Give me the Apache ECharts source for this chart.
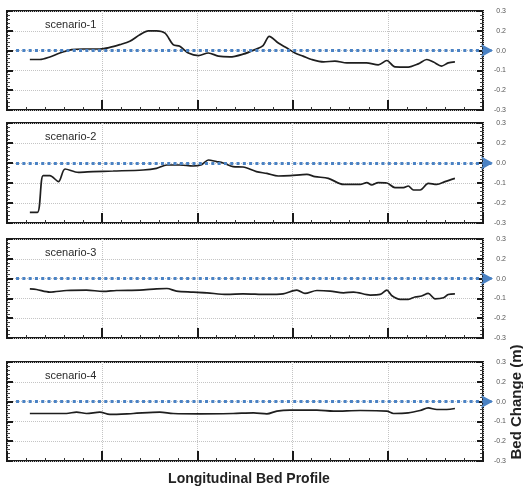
<!DOCTYPE html>
<html>
<head>
<meta charset="utf-8">
<script src="https://cdn.jsdelivr.net/npm/echarts@6/dist/echarts.min.js"></script>
<style>html,body{margin:0;padding:0;background:#fff}#c{width:523px;height:489px}</style>
</head>
<body>
<div id="c"></div>
<script>
const scenarioNames = ['scenario-1', 'scenario-2', 'scenario-3', 'scenario-4'];
const yTickLabels = ['-0.3', '-0.2', '-0.1', '0.0', '0.2', '0.3'];
const xTickValues = [0, 20, 40, 60, 80, 100];

const scenario1X = [4.8, 6.9, 9.0, 11.1, 13.6, 16.0, 19.5, 21.6, 23.7, 25.8, 27.9, 29.7, 31.4, 33.2, 34.9, 36.3, 38.1, 40.2, 42.3, 44.4, 46.8, 49.6, 52.1, 53.8, 55.1, 57.0, 58.8, 60.5, 62.2, 64.0, 66.5, 68.9, 71.4, 75.5, 78.0, 79.8, 81.5, 84.3, 86.4, 88.2, 89.6, 91.3, 92.7, 94.1];
const scenario1Y = [-0.045, -0.045, -0.032, -0.012, 0.005, 0.008, 0.008, 0.016, 0.03, 0.047, 0.08, 0.10, 0.10, 0.088, 0.03, 0.022, -0.012, -0.025, -0.012, -0.028, -0.032, -0.018, 0.005, 0.025, 0.072, 0.038, 0.013, -0.012, -0.028, -0.045, -0.057, -0.053, -0.062, -0.062, -0.072, -0.05, -0.082, -0.083, -0.067, -0.045, -0.058, -0.078, -0.062, -0.057];

const scenario2X = [4.8, 6.4, 7.6, 9.0, 10.8, 12.2, 15.0, 18.1, 22.3, 28.6, 31.4, 33.6, 36.3, 39.1, 40.9, 42.3, 44.0, 45.4, 47.5, 49.6, 52.4, 54.6, 57.0, 59.5, 63.0, 64.7, 67.5, 70.7, 74.2, 75.6, 76.6, 78.0, 79.8, 81.5, 83.3, 84.3, 85.4, 86.8, 88.5, 90.3, 92.0, 94.1];
const scenario2Y = [-0.247, -0.247, -0.063, -0.063, -0.093, -0.03, -0.047, -0.043, -0.04, -0.035, -0.027, -0.01, -0.01, -0.015, -0.008, 0.015, 0.007, 0.0, -0.018, -0.02, -0.043, -0.052, -0.065, -0.063, -0.057, -0.068, -0.077, -0.107, -0.107, -0.098, -0.11, -0.098, -0.10, -0.123, -0.123, -0.115, -0.135, -0.135, -0.102, -0.107, -0.093, -0.077];

const scenario3X = [4.8, 6.2, 9.0, 12.5, 16.7, 20.2, 23.0, 27.9, 31.4, 33.6, 35.6, 39.1, 42.0, 46.2, 49.6, 54.6, 58.0, 60.9, 62.6, 65.1, 67.9, 70.7, 72.8, 76.3, 78.4, 79.8, 80.8, 82.6, 84.3, 85.7, 87.1, 88.5, 89.9, 91.7, 92.7, 94.1];
const scenario3Y = [-0.052, -0.055, -0.068, -0.06, -0.058, -0.065, -0.06, -0.058, -0.052, -0.05, -0.063, -0.068, -0.072, -0.08, -0.077, -0.08, -0.077, -0.058, -0.075, -0.06, -0.063, -0.072, -0.068, -0.083, -0.08, -0.058, -0.085, -0.105, -0.105, -0.093, -0.088, -0.075, -0.102, -0.097, -0.08, -0.077];

const scenario4X = [4.8, 12.5, 14.6, 16.7, 19.5, 21.6, 26.5, 32.1, 34.9, 40.5, 47.5, 51.8, 54.6, 56.7, 59.5, 65.1, 68.6, 74.2, 79.8, 81.2, 84.3, 86.8, 88.5, 90.3, 92.4, 94.1];
const scenario4Y = [-0.06, -0.06, -0.053, -0.06, -0.053, -0.065, -0.06, -0.053, -0.06, -0.062, -0.06, -0.057, -0.062, -0.048, -0.043, -0.043, -0.048, -0.045, -0.048, -0.06, -0.057, -0.045, -0.032, -0.04, -0.04, -0.035];

const zeroLineX = [1.9, 102.1];
const zeroLineY = 0;

const allX = [scenario1X, scenario2X, scenario3X, scenario4X];
const allY = [scenario1Y, scenario2Y, scenario3Y, scenario4Y];

const gridTops = [11, 123, 239, 362];
const gridHeights = [99, 100, 99, 99];
const plotLeft = 7, plotWidth = 476, wideWidth = 492;

const chart = echarts.init(document.getElementById('c'), null, {renderer: 'canvas'});

const grids = [], xAxes = [], yAxes = [], series = [], titles = [];
const xMax = xTickValues[xTickValues.length - 1];
gridTops.forEach((t, i) => {
  grids.push({left: plotLeft, top: t, width: plotWidth, height: gridHeights[i], show: true,
    borderColor: '#1a1a1a', borderWidth: 2, backgroundColor: 'rgba(0,0,0,0)'});
  xAxes.push({type: 'value', gridIndex: i, min: xTickValues[0], max: xMax, interval: 20,
    axisLine: {show: false, onZero: false},
    axisLabel: {show: false},
    axisTick: {show: true, inside: true, length: 10, lineStyle: {color: '#1a1a1a', width: 2}},
    minorTick: {show: true, splitNumber: 5, length: 3, lineStyle: {color: '#333', width: 1}},
    splitLine: {show: true, lineStyle: {color: '#c4c4c4', type: 'dotted', width: 1}}
  });
  yAxes.push({type: 'value', gridIndex: i, position: 'left', min: -0.3, max: 0.2, interval: 0.1,
    axisLine: {show: false, onZero: false}, axisLabel: {show: false},
    axisTick: {show: true, inside: true, length: 6, lineStyle: {color: '#1a1a1a', width: 2}},
    minorTick: {show: true, splitNumber: 5, length: 3, lineStyle: {color: '#444', width: 1}},
    splitLine: {show: true, lineStyle: {color: '#c4c4c4', type: 'dotted', width: 1}}
  });
  yAxes.push({type: 'value', gridIndex: i, position: 'right', min: -0.3, max: 0.2, interval: 0.1,
    axisLine: {show: false, onZero: false},
    axisLabel: {show: true, inside: false, margin: 23, align: 'right', fontSize: 7, color: '#555',
      fontFamily: 'Liberation Sans, Arial, sans-serif',
      formatter: v => yTickLabels[Math.round((v + 0.3) / 0.1)]},
    axisTick: {show: true, inside: true, length: 6, lineStyle: {color: '#1a1a1a', width: 2}},
    minorTick: {show: true, splitNumber: 5, length: 3, lineStyle: {color: '#444', width: 1}},
    splitLine: {show: false}
  });
  series.push({
    type: 'line', name: scenarioNames[i], xAxisIndex: i, yAxisIndex: i * 2,
    data: allX[i].map((x, k) => [x, allY[i][k]]),
    symbol: 'none', smooth: 0.3, clip: false, z: 3,
    lineStyle: {color: '#1e1e1e', width: 1.7}
  });
  titles.push({text: scenarioNames[i], left: 45, top: t + 8, padding: 0,
    textStyle: {fontSize: 11, fontWeight: 'normal', color: '#2a2a2a', fontFamily: 'Liberation Sans, Arial, sans-serif'}});
});

// wider overlay grids (same scale) for the blue zero reference line with arrow
gridTops.forEach((t, i) => {
  const gi = gridTops.length + i;
  grids.push({left: plotLeft, top: t, width: wideWidth, height: gridHeights[i], show: false});
  xAxes.push({type: 'value', gridIndex: gi, min: 0, max: xMax * wideWidth / plotWidth, show: false});
  yAxes.push({type: 'value', gridIndex: gi, min: -0.3, max: 0.2, show: false});
  series.push({
    type: 'line', name: 'zero-' + (i + 1), xAxisIndex: xAxes.length - 1, yAxisIndex: yAxes.length - 1,
    data: [[zeroLineX[0], zeroLineY], [zeroLineX[1], zeroLineY]],
    symbol: 'none', z: 4, lineStyle: {opacity: 0},
    markLine: {silent: true, symbol: ['none', 'arrow'], symbolSize: [10, 12], z: 4,
      label: {show: false},
      lineStyle: {color: '#4a82c4', type: [3, 3.3], width: 3, opacity: 1},
      data: [[{coord: [zeroLineX[0], zeroLineY]}, {coord: [zeroLineX[1], zeroLineY]}]]
    }
  });
});

chart.setOption({
  animation: false,
  title: titles,
  grid: grids,
  xAxis: xAxes,
  yAxis: yAxes,
  series: series,
  graphic: [
    {type: 'text', x: 249, y: 479, style: {text: 'Longitudinal Bed Profile', textAlign: 'center', textVerticalAlign: 'middle',
      font: 'bold 14px "Liberation Sans", Arial, sans-serif', fill: '#222'}},
    {type: 'text', x: 517, y: 402, rotation: Math.PI / 2, style: {text: 'Bed Change (m)', textAlign: 'center', textVerticalAlign: 'middle',
      font: 'bold 15px "Liberation Sans", Arial, sans-serif', fill: '#222'}}
  ]
});
</script>
</body>
</html>
